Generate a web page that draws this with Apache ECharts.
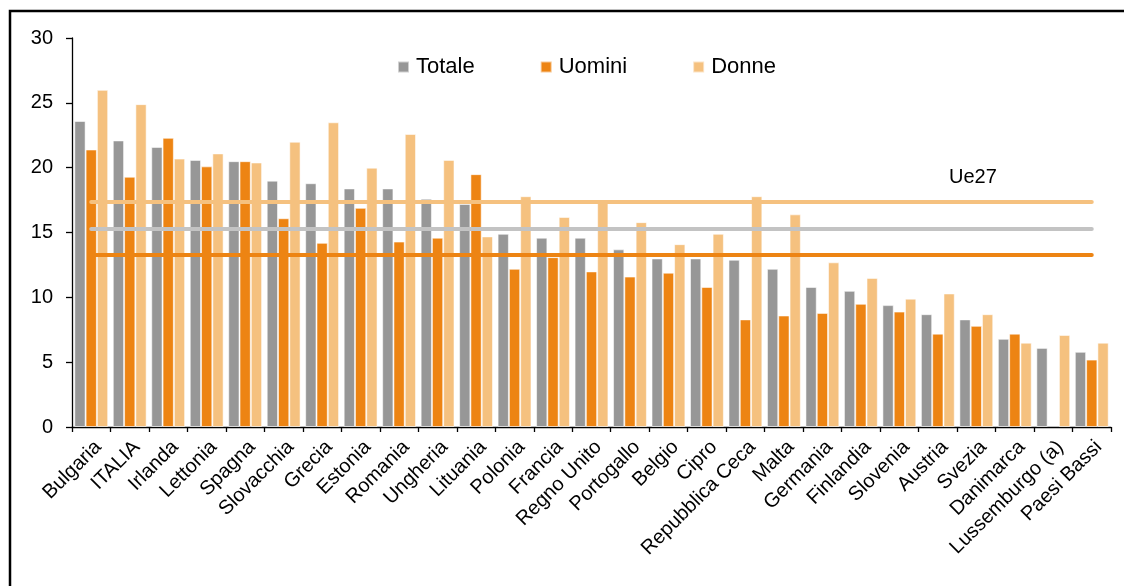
<!DOCTYPE html>
<html>
<head>
<meta charset="utf-8">
<script src="https://cdn.jsdelivr.net/npm/echarts@6/dist/echarts.min.js"></script>
<style>
  html, body { margin: 0; padding: 0; background: #ffffff; }
  #chart { width: 1124px; height: 586px; }
</style>
</head>
<body>
<div id="chart"></div>
<script>
// Paesi, in ordine decrescente del totale
const paesi = [
  'Bulgaria', 'ITALIA', 'Irlanda', 'Lettonia', 'Spagna', 'Slovacchia', 'Grecia',
  'Estonia', 'Romania', 'Ungheria', 'Lituania', 'Polonia', 'Francia', 'Regno Unito',
  'Portogallo', 'Belgio', 'Cipro', 'Repubblica Ceca', 'Malta', 'Germania',
  'Finlandia', 'Slovenia', 'Austria', 'Svezia', 'Danimarca', 'Lussemburgo (a)', 'Paesi Bassi'
];

const totale = [23.6, 22.1, 21.6, 20.6, 20.5, 19.0, 18.8, 18.4, 18.4, 17.6, 17.2, 14.9, 14.6, 14.6,
                13.7, 13.0, 13.0, 12.9, 12.2, 10.8, 10.5, 9.4, 8.7, 8.3, 6.8, 6.1, 5.8];
const uomini = [21.4, 19.3, 22.3, 20.1, 20.5, 16.1, 14.2, 16.9, 14.3, 14.6, 19.5, 12.2, 13.1, 12.0,
                11.6, 11.9, 10.8, 8.3, 8.6, 8.8, 9.5, 8.9, 7.2, 7.8, 7.2, null, 5.2];
const donne  = [26.0, 24.9, 20.7, 21.1, 20.4, 22.0, 23.5, 20.0, 22.6, 20.6, 14.7, 17.8, 16.2, 17.4,
                15.8, 14.1, 14.9, 17.8, 16.4, 12.7, 11.5, 9.9, 10.3, 8.7, 6.5, 7.1, 6.5];

// Media Ue27
const ue27Totale = 15.3;
const ue27Uomini = 13.3;
const ue27Donne = 17.4;

const yTicks = [0, 5, 10, 15, 20, 25, 30];

const FONT = '"Liberation Sans", Arial, sans-serif';
const C_TOT = '#979797';
const C_UOM = '#ed8413';
const C_DON = '#f5c17f';
const C_LINE_TOT = '#c3c3c3';

const barBorder = { borderColor: 'rgba(255,255,255,0.55)', borderWidth: 1 };

function mediaLine(value, color) {
  return {
    type: 'line',
    data: [],
    z: 5,
    silent: true,
    markLine: {
      silent: true,
      symbol: 'none',
      animation: false,
      label: { show: false },
      lineStyle: { color: color, width: 4, type: 'solid', cap: 'round' },
      emphasis: { disabled: true },
      data: [[
        { coord: [paesi[0], value] },
        { coord: [paesi[paesi.length - 1], value] }
      ]]
    }
  };
}

const chart = echarts.init(document.getElementById('chart'), null, { renderer: 'canvas' });

chart.setOption({
  animation: false,
  backgroundColor: '#ffffff',
  textStyle: { fontFamily: FONT },
  grid: { left: 72, right: 13, top: 38, bottom: 159, containLabel: false },
  legend: {
    data: ['Totale', 'Uomini', 'Donne'],
    left: 392,
    top: 51,
    icon: 'rect',
    itemWidth: 11,
    itemHeight: 11,
    itemGap: 65,
    selectedMode: false,
    textStyle: { fontFamily: FONT, fontSize: 22, color: '#000', padding: [0, 0, 0, 2] }
  },
  xAxis: {
    type: 'category',
    data: paesi,
    axisLine: { lineStyle: { color: '#000', width: 1.3 } },
    axisTick: { show: true, length: 5, lineStyle: { color: '#000', width: 1.3 } },
    axisLabel: {
      interval: 0,
      rotate: 45,
      margin: 10,
      verticalAlign: 'top',
      color: '#000',
      fontFamily: FONT,
      fontSize: 20
    },
    splitLine: { show: false }
  },
  yAxis: {
    type: 'value',
    min: 0,
    max: 30,
    interval: 5,
    axisLine: { show: true, lineStyle: { color: '#000', width: 1.3 } },
    axisTick: { show: true, length: 6, lineStyle: { color: '#000', width: 1.3 } },
    axisLabel: {
      margin: 19,
      color: '#000',
      fontFamily: FONT,
      fontSize: 20,
      formatter: v => (yTicks.indexOf(v) >= 0 ? String(v) : '')
    },
    splitLine: { show: false }
  },
  graphic: [
    {
      type: 'polyline',
      silent: true,
      shape: { points: [[10, 600], [10, 11], [1130, 11]] },
      style: { fill: 'none', stroke: '#000', lineWidth: 2.5 }
    },
    {
      type: 'text',
      silent: true,
      left: 949,
      top: 167,
      style: { text: 'Ue27', fill: '#000', font: '20px ' + FONT }
    }
  ],
  series: [
    {
      name: 'Totale', type: 'bar', data: totale,
      barGap: '0%', barCategoryGap: '12%',
      itemStyle: Object.assign({ color: C_TOT }, barBorder)
    },
    {
      name: 'Uomini', type: 'bar', data: uomini,
      barGap: '0%', barCategoryGap: '12%',
      itemStyle: Object.assign({ color: C_UOM }, barBorder)
    },
    {
      name: 'Donne', type: 'bar', data: donne,
      barGap: '0%', barCategoryGap: '12%',
      itemStyle: Object.assign({ color: C_DON }, barBorder)
    },
    mediaLine(ue27Donne, C_DON),
    mediaLine(ue27Totale, C_LINE_TOT),
    mediaLine(ue27Uomini, C_UOM)
  ]
});
</script>
</body>
</html>
